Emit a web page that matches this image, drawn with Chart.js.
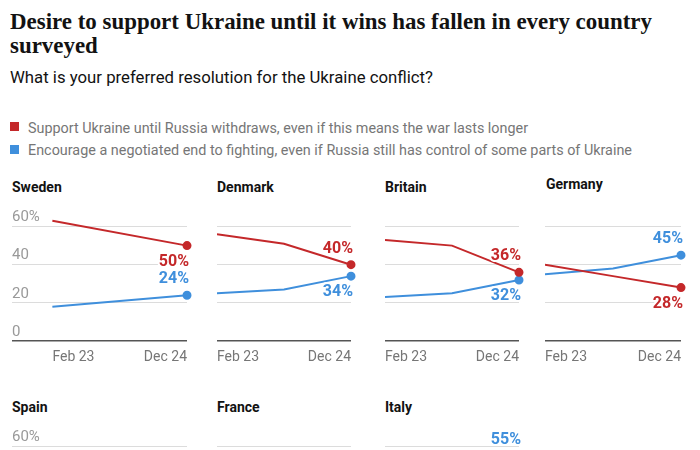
<!DOCTYPE html>
<html><head><meta charset="utf-8">
<script src="https://cdn.jsdelivr.net/npm/chart.js@4.4.1/dist/chart.umd.min.js"></script>
<style>
html,body{margin:0;padding:0;width:700px;height:450px;overflow:hidden;background:#fff;}
body{position:relative;font-family:Roboto,"Liberation Sans",sans-serif;}
.abs{position:absolute;white-space:nowrap;transform-origin:0 0;}
.title{font-family:"Liberation Serif",serif;font-weight:bold;font-size:23px;line-height:24px;color:#121212;left:10px;}
.sub{font-size:17px;line-height:20px;color:#121212;left:10px;top:67px;}
.leg{font-size:15px;line-height:18px;color:#767676;left:28px;}
.sq{position:absolute;left:10px;width:9px;height:9px;}
.ptitle{font-size:14px;font-weight:bold;line-height:18px;color:#121212;}
canvas{position:absolute;}
</style></head>
<body>
<div class="abs title" id="t1" style="top:10px" data-w="642">Desire to support Ukraine until it wins has fallen in every country</div>
<div class="abs title" id="t2" style="top:34px">surveyed</div>
<div class="abs sub" data-w="423">What is your preferred resolution for the Ukraine conflict?</div>
<div class="sq" style="top:122px;background:#c4282a"></div>
<div class="abs leg" style="top:119px" data-w="500">Support Ukraine until Russia withdraws, even if this means the war lasts longer</div>
<div class="sq" style="top:145px;background:#3f8fdc"></div>
<div class="abs leg" style="top:141px" data-w="604">Encourage a negotiated end to fighting, even if Russia still has control of some parts of Ukraine</div>

<div class="abs ptitle" style="left:12px;top:178px">Sweden</div>
<div class="abs ptitle" style="left:217px;top:178px">Denmark</div>
<div class="abs ptitle" style="left:385px;top:178px">Britain</div>
<div class="abs ptitle" style="left:546px;top:175px">Germany</div>
<div class="abs ptitle" style="left:12px;top:398px">Spain</div>
<div class="abs ptitle" style="left:217px;top:398px">France</div>
<div class="abs ptitle" style="left:385px;top:398px">Italy</div>

<canvas id="c_sweden" width="181" height="175" style="left:12px;top:202px"></canvas>
<canvas id="c_denmark" width="140" height="175" style="left:217px;top:202px"></canvas>
<canvas id="c_britain" width="140" height="175" style="left:385px;top:202px"></canvas>
<canvas id="c_germany" width="142" height="175" style="left:545px;top:202px"></canvas>
<canvas id="c_spain" width="181" height="175" style="left:12px;top:422px"></canvas>
<canvas id="c_france" width="140" height="175" style="left:217px;top:422px"></canvas>
<canvas id="c_italy" width="140" height="175" style="left:385px;top:422px"></canvas>

<script>
// ---- data ----
const tickLabels = ['Feb 23', 'Dec 24'];
const yTicks = [0, 20, 40, 60];
const seriesNames = ['Support Ukraine until Russia withdraws', 'Encourage a negotiated end to fighting'];

const swedenSupport   = [63, null, 50];
const swedenNegotiate = [18, null, 24];
const denmarkSupport   = [56, 51, 40];
const denmarkNegotiate = [25, 27, 34];
const britainSupport   = [53, 50, 36];
const britainNegotiate = [23, 25, 32];
const germanySupport   = [40, 34, 28];
const germanyNegotiate = [35, 38, 45];
const spainSupport   = [null, null, null];
const spainNegotiate = [null, null, null];
const franceSupport   = [null, null, null];
const franceNegotiate = [null, null, null];
const italySupport   = [null, null, null];
const italyNegotiate = [null, null, 55];

// ---- styles ----
const RED = '#c4282a', BLUE = '#3f8fdc';

// fit text widths
document.querySelectorAll('[data-w]').forEach(el => {
  const w = el.getBoundingClientRect().width;
  const f = (+el.dataset.w) / w;
  el.style.transform = 'scaleX(' + f + ')';
  if (el.id === 't1') document.getElementById('t2').style.transform = 'scaleX(' + f + ')';
});

const endLabels = {
  id: 'endLabels',
  afterDatasetsDraw(chart, args, opts) {
    const ctx = chart.ctx;
    chart.data.datasets.forEach((ds, di) => {
      const meta = chart.getDatasetMeta(di);
      const last = ds.data.length - 1;
      const v = ds.data[last].y;
      if (v == null) return;
      const pt = meta.data[last];
      const y = pt.y + (opts.sides[di] === 'above' ? -16 : 16);
      ctx.save();
      ctx.font = 'bold 16px Roboto';
      ctx.textAlign = 'right';
      ctx.textBaseline = 'middle';
      ctx.lineWidth = 4; ctx.lineJoin = 'round'; ctx.strokeStyle = '#fff';
      ctx.strokeText(v + '%', pt.x + 2, y);
      ctx.fillStyle = ds.borderColor;
      ctx.fillText(v + '%', pt.x + 2, y);
      ctx.restore();
    });
  }
};

function makeChart(id, support, negotiate, sides, showY, xMin) {
  const last = support.length - 1;
  const mk = (arr, color, name) => ({
    label: name,
    data: arr.map((v, i) => ({x: i, y: v})),
    borderColor: color, backgroundColor: color,
    borderWidth: 2, spanGaps: true, clip: false,
    pointRadius: c => c.dataIndex === last ? 3.5 : 0,
    pointHoverRadius: 0
  });
  new Chart(document.getElementById(id), {
    type: 'line',
    data: { datasets: [mk(support, RED, seriesNames[0]), mk(negotiate, BLUE, seriesNames[1])] },
    plugins: [endLabels],
    options: {
      responsive: false, animation: false,
      layout: { autoPadding: false, padding: { top: 15, right: 6, left: 0, bottom: 0 } },
      plugins: { legend: { display: false }, tooltip: { enabled: false }, endLabels: { sides } },
      scales: {
        x: {
          type: 'linear', min: xMin, max: last,
          afterBuildTicks: s => { s.ticks = [{value: 0}, {value: last}]; },
          afterFit: s => { s.height = 36; },
          grid: { display: false, drawTicks: false },
          border: { display: false },
          ticks: {
            autoSkip: false, maxRotation: 0, align: 'inner', padding: 0,
            color: '#767676', font: { family: 'Roboto', size: 14, lineHeight: 2.4 },
            callback: v => v === 0 ? tickLabels[0] : tickLabels[1]
          }
        },
        y: {
          min: 0, max: 65,
          afterBuildTicks: s => { s.ticks = yTicks.map(v => ({value: v})); },
          afterFit: s => { s.width = 0; },
          grid: {
            drawTicks: false,
            color: c => c.tick && c.tick.value === 0 ? '#555' : '#dcdcdc',
            lineWidth: c => c.tick && c.tick.value === 0 ? 1.5 : 1
          },
          border: { display: false },
          ticks: {
            display: showY, mirror: true, padding: 0, labelOffset: -9,
            color: '#999', font: { family: 'Roboto', size: 15 },
            callback: v => v === 60 ? '60%' : String(v)
          }
        }
      }
    }
  });
}

makeChart('c_sweden', swedenSupport, swedenNegotiate, ['below', 'above'], true, -0.6);
makeChart('c_denmark', denmarkSupport, denmarkNegotiate, ['above', 'below'], false, 0);
makeChart('c_britain', britainSupport, britainNegotiate, ['above', 'below'], false, 0);
makeChart('c_germany', germanySupport, germanyNegotiate, ['below', 'above'], false, 0);
makeChart('c_spain', spainSupport, spainNegotiate, ['below', 'above'], true, -0.6);
makeChart('c_france', franceSupport, franceNegotiate, ['above', 'below'], false, 0);
makeChart('c_italy', italySupport, italyNegotiate, ['below', 'above'], false, 0);
</script>
</body></html>
